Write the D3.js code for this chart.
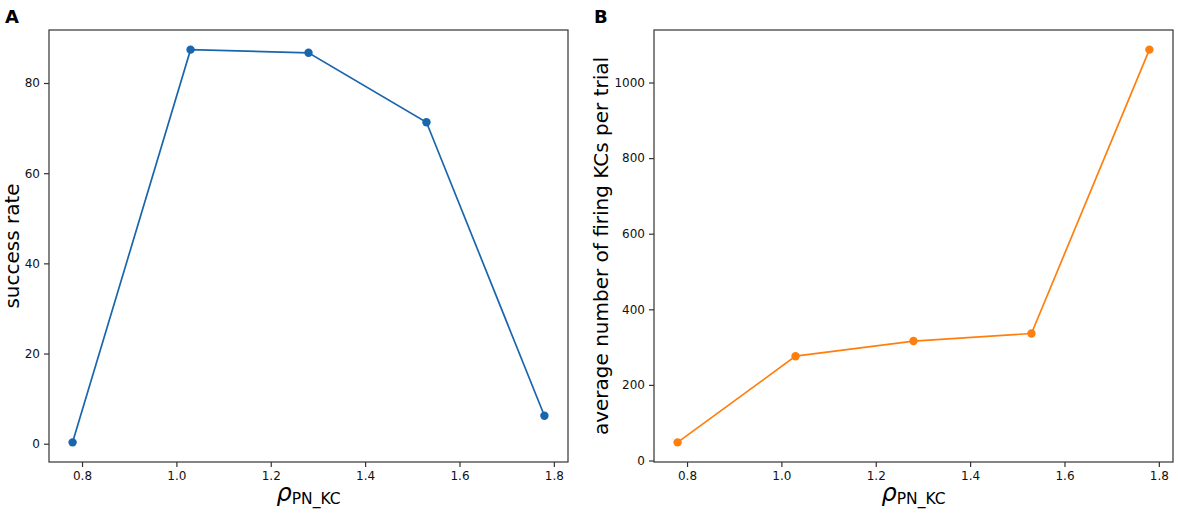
<!DOCTYPE html>
<html>
<head>
<meta charset="utf-8">
<script src="https://cdnjs.cloudflare.com/ajax/libs/d3/7.8.5/d3.min.js"></script>
<style>
    body { margin: 0; background: #fff; }
    svg { display: block; font-family: "DejaVu Sans", sans-serif; }
    .frame { fill: none; stroke: #333; stroke-width: 1.2; }
    .axis path { display: none; }
    .axis line { stroke: #333; stroke-width: 1.2; }
    .axis text { fill: #111; font-size: 12px; font-family: "DejaVu Sans", sans-serif; }
    .panel-letter { font-size: 18px; font-weight: bold; }
    .ylabel { font-size: 20px; }
</style>
</head>
<body>
<svg id="chart" width="1178" height="514"></svg>
<script>
// DATA
var pValues = [0.78, 1.03, 1.28, 1.53, 1.78];
var successRate = [0.3, 87.4, 86.7, 71.3, 6.2];
var firingKCs = [48, 276, 316, 336, 1087];

var xTicks = [0.8, 1.0, 1.2, 1.4, 1.6, 1.8];
var successTicks = [0, 20, 40, 60, 80];
var firingTicks = [0, 200, 400, 600, 800, 1000];

var panels = [
    { letter: "A", values: successRate, ticks: successTicks, label: "success rate", color: "#1a66ad",
      left: 49, right: 568, letterX: 5, labelX: 19 },
    { letter: "B", values: firingKCs, ticks: firingTicks, label: "average number of firing KCs per trial", color: "#ff7f0e",
      left: 654, right: 1173, letterX: 594, labelX: 608 }
];

var _top = 30;
var _bottom = 462;

var svg = d3.select("#chart");

// matplotlib style 5% margin
var paddedExtent = function(values) {
    var ext = d3.extent(values);
    var pad = (ext[1] - ext[0]) * 0.05;
    return [ext[0] - pad, ext[1] + pad];
};

var drawPanel = function(p) {
    var g = svg.append("g");

    var x = d3.scaleLinear().domain(paddedExtent(pValues)).range([p.left, p.right]);
    var y = d3.scaleLinear().domain(paddedExtent(p.values)).range([_bottom, _top]);

    g.append("g")
        .classed("axis", true)
        .attr("transform", "translate(0," + _bottom + ")")
        .call(d3.axisBottom(x).tickValues(xTicks).tickFormat(d3.format(".1f")).tickSize(5).tickPadding(4));

    g.append("g")
        .classed("axis", true)
        .attr("transform", "translate(" + p.left + ",0)")
        .call(d3.axisLeft(y).tickValues(p.ticks).tickFormat(d3.format("d")).tickSize(5).tickPadding(4));

    var pts = pValues.map(function(d, i) { return [d, p.values[i]]; });

    var line = d3.line()
        .x(function(d) { return x(d[0]); })
        .y(function(d) { return y(d[1]); });

    g.append("path")
        .datum(pts)
        .attr("d", line)
        .attr("fill", "none")
        .attr("stroke", p.color)
        .attr("stroke-width", 1.7);

    g.selectAll(".dot")
        .data(pts)
        .enter()
        .append("circle")
            .classed("dot", true)
            .attr("cx", function(d) { return x(d[0]); })
            .attr("cy", function(d) { return y(d[1]); })
            .attr("r", 4.2)
            .attr("fill", p.color);

    g.append("rect")
        .classed("frame", true)
        .attr("x", p.left)
        .attr("y", _top)
        .attr("width", p.right - p.left)
        .attr("height", _bottom - _top);

    // y label
    var midY = (_top + _bottom) / 2;
    g.append("text")
        .classed("ylabel", true)
        .attr("transform", "translate(" + p.labelX + "," + midY + ") rotate(-90)")
        .style("text-anchor", "middle")
        .text(p.label);

    // x label: rho with subscript
    var xl = g.append("text")
        .attr("x", (p.left + p.right) / 2)
        .attr("y", 501)
        .style("text-anchor", "middle");
    xl.append("tspan")
        .style("font-size", "24px")
        .style("font-style", "italic")
        .text("ρ");
    xl.append("tspan")
        .style("font-size", "15.5px")
        .attr("dy", 3)
        .text("PN_KC");

    g.append("text")
        .classed("panel-letter", true)
        .attr("x", p.letterX)
        .attr("y", 23)
        .text(p.letter);
};

panels.forEach(drawPanel);
</script>
</body>
</html>
